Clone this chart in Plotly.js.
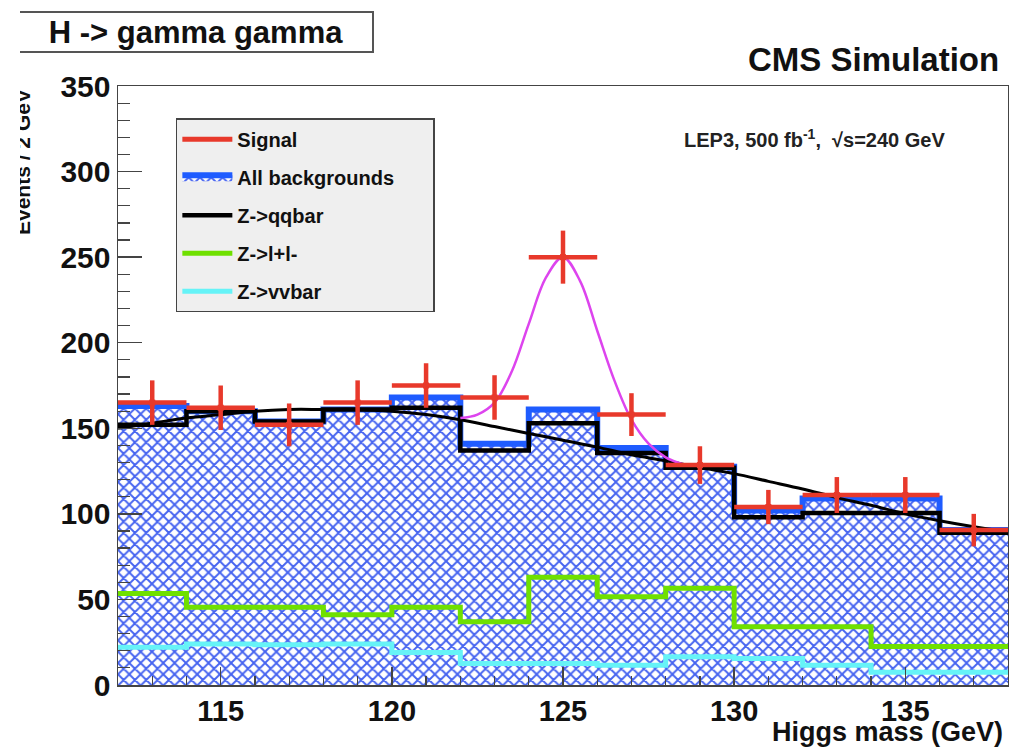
<!DOCTYPE html>
<html>
<head>
<meta charset="utf-8">
<script src="https://cdn.plot.ly/plotly-3.0.1.min.js"></script>
<style>
  html, body { margin:0; padding:0; background:#fff; }
  #wrap { position:relative; width:1009px; height:749px; }
  #chart { width:1009px; height:749px; }
  #crop { position:absolute; left:0; top:0; width:20px; height:320px; background:#fff; z-index:10; }
</style>
</head>
<body>
<div id="wrap">
  <div id="chart"></div>
  <div id="crop"></div>
</div>
<script>
// ---- data ----
const binEdges = [112, 114, 116, 118, 120, 122, 124, 126, 128, 130, 132, 134, 136, 138];
const binCenters = [113, 115, 117, 119, 121, 123, 125, 127, 129, 131, 133, 135, 137];

const allBackgrounds = [163, 160, 154, 161, 168, 141, 161, 138.5, 127.5, 102, 109, 109, 90.5];
const zqqbar         = [152, 160, 154, 161, 162, 137, 153, 135.5, 127, 98, 100.5, 100.5, 89];
const zll            = [53.5, 45.5, 45.5, 41, 45.5, 37, 63, 51.5, 56.5, 34, 34, 22.5, 22.5];
const zvvbar         = [22, 24, 23.5, 24, 19, 12.5, 12.5, 11.5, 16.5, 15.5, 11.5, 7.5, 7.5];

const signal     = [165, 162, 152, 165, 175, 168, 250, 158, 128.5, 104, 111, 111, 90.5];
const signalErr  = [13, 13, 12.5, 13, 13, 13, 15.5, 12.5, 11, 10, 10.5, 10.5, 9.5];

// smooth background fit (black curve)
const bkgFitX = [112, 113, 114, 115, 116, 117, 118, 119, 120, 121, 122, 123, 124, 125, 126, 127, 128, 129, 130, 131, 132, 133, 134, 135, 136, 137, 138];
const bkgFitY = [150, 153, 156, 158, 160, 161, 161, 161, 160, 158, 155, 151, 147, 143, 139, 134.5, 131, 127, 123.5, 119, 114.5, 109.5, 105, 100, 96, 92.5, 89.5];

// signal + background fit (magenta curve)
const sbFitX = [122, 122.5, 123, 123.5, 124, 124.5, 125, 125.5, 126, 126.5, 127, 127.5, 128, 128.5];
const sbFitY = [156, 158, 165, 183, 211, 238, 250, 236, 207, 178, 155, 141, 133, 129];

const xTickVals = [115, 120, 125, 130, 135];
const yTickVals = [0, 50, 100, 150, 200, 250, 300, 350];

// ---- helpers: step histogram via bin edges ----
function stepY(vals) { return vals.concat([vals[vals.length - 1]]); }

const FONT = 'Liberation Sans, Arial, sans-serif';
const RED = '#e8392b', BLUE = '#1f5cff', GREEN = '#6fe000', CYAN = '#66f3f7', BLACK = '#000000', MAGENTA = '#dd44ee';
const PAD = '\u00a0\u00a0\u00a0\u00a0\u00a0\u00a0'; // widens the legend box like the reference

const traces = [
  {
    name: 'All backgrounds' + PAD, legendgroup: 'b', legendrank: 2,
    x: binEdges, y: stepY(allBackgrounds), type: 'scatter', mode: 'lines',
    line: { shape: 'hv', color: BLUE, width: 6 },
    fill: 'tozeroy', fillcolor: 'rgba(255,255,255,0)',
    fillpattern: { shape: 'x', fgcolor: '#4563f0', bgcolor: '#ffffff', size: 8, solidity: 0.42 },
    hoverinfo: 'skip'
  },
  {
    name: 'Z->l+l-', legendgroup: 'd', legendrank: 4,
    x: binEdges, y: stepY(zll), type: 'scatter', mode: 'lines',
    line: { shape: 'hv', color: GREEN, width: 5 }
  },
  {
    name: 'Z->vvbar', legendgroup: 'e', legendrank: 5,
    x: binEdges, y: stepY(zvvbar), type: 'scatter', mode: 'lines',
    line: { shape: 'hv', color: CYAN, width: 5 }
  },
  {
    name: 'Z->qqbar', legendgroup: 'c', legendrank: 3,
    x: binEdges, y: stepY(zqqbar), type: 'scatter', mode: 'lines',
    line: { shape: 'hv', color: BLACK, width: 4.5 }
  },
  {
    name: 'bkg fit', showlegend: false,
    x: bkgFitX, y: bkgFitY, type: 'scatter', mode: 'lines',
    line: { shape: 'spline', color: BLACK, width: 3 }
  },
  {
    name: 'sig+bkg fit', showlegend: false,
    x: sbFitX, y: sbFitY, type: 'scatter', mode: 'lines',
    line: { shape: 'spline', color: MAGENTA, width: 2.5 }
  },
  {
    name: 'Signal', legendgroup: 'a', showlegend: false, legendrank: 1,
    x: binCenters, y: signal, type: 'scatter', mode: 'markers',
    marker: { color: RED, size: 6, symbol: 'square' },
    error_y: { type: 'data', array: signalErr, visible: true, color: RED, thickness: 4.5, width: 0 },
    error_x: { type: 'constant', value: 1, visible: true, color: RED, thickness: 4.5, width: 0 }
  },
  {
    // legend entry for the signal (red line swatch, as in the reference)
    name: 'Signal', legendgroup: 'a', legendrank: 1,
    x: [null], y: [null], type: 'scatter', mode: 'lines',
    line: { color: RED, width: 5 }
  }
];

const layout = {
  width: 1009, height: 749,
  margin: { l: 118, r: 1, t: 86, b: 64, pad: 0 },
  paper_bgcolor: '#ffffff', plot_bgcolor: '#ffffff',
  font: { family: FONT, color: '#111' },
  showlegend: true,
  legend: {
    x: 0.065, y: 0.946, xanchor: 'left', yanchor: 'top',
    bgcolor: '#efefef', bordercolor: '#444', borderwidth: 1.5,
    font: { family: FONT, size: 20, weight: 'bold', color: '#111' },
    traceorder: 'grouped', tracegroupgap: 9, itemwidth: 50,
    itemclick: false
  },
  xaxis: {
    range: [112, 138], tickmode: 'array', tickvals: xTickVals,
    ticks: 'inside', ticklen: 18, tickwidth: 1.5, tickcolor: '#444',
    minor: { ticks: 'inside', ticklen: 9, dtick: 1, tick0: 112, tickcolor: '#444', tickwidth: 1.2, showgrid: false },
    showline: true, mirror: true, linecolor: '#444', linewidth: 1.5,
    showgrid: false, zeroline: false,
    tickfont: { family: FONT, size: 29, weight: 'bold', color: '#111' }
  },
  yaxis: {
    range: [0, 350], tickmode: 'array', tickvals: yTickVals,
    ticks: 'inside', ticklen: 24, tickwidth: 1.5, tickcolor: '#444',
    minor: { ticks: 'inside', ticklen: 12, dtick: 10, tick0: 0, tickcolor: '#444', tickwidth: 1.2, showgrid: false },
    showline: true, mirror: true, linecolor: '#444', linewidth: 1.5,
    showgrid: false, zeroline: false,
    tickfont: { family: FONT, size: 30, weight: 'bold', color: '#111' }
  },
  annotations: [
    {
      text: 'H -> gamma gamma', xref: 'paper', yref: 'paper',
      x: (196 - 118) / 890, y: (685 - 32) / 599, xanchor: 'center', yanchor: 'middle',
      showarrow: false, width: 350, height: 36,
      bordercolor: '#555', borderwidth: 2, borderpad: 1, bgcolor: '#ffffff',
      font: { family: FONT, size: 31, weight: 'bold', color: '#111' }
    },
    {
      text: 'CMS Simulation', xref: 'paper', yref: 'paper',
      x: 1, y: (685 - 60) / 599, xanchor: 'right', yanchor: 'middle', xshift: -7,
      showarrow: false, font: { family: FONT, size: 33, weight: 'bold', color: '#111' }
    },
    {
      text: 'LEP3, 500 fb<sup>-1</sup>,  √s=240 GeV', xref: 'paper', yref: 'paper',
      x: (814 - 118) / 890, y: (685 - 138) / 599, xanchor: 'center', yanchor: 'middle',
      showarrow: false, font: { family: FONT, size: 20, weight: 'bold', color: '#222' }
    },
    {
      text: 'Higgs mass (GeV)', xref: 'paper', yref: 'paper',
      x: 1, y: (685 - 732) / 599, xanchor: 'right', yanchor: 'middle', xshift: -3,
      showarrow: false, font: { family: FONT, size: 27, weight: 'bold', color: '#111' }
    },
    {
      text: 'Events / 2 GeV', xref: 'paper', yref: 'paper', textangle: -90,
      x: (22 - 118) / 890, y: (685 - 162) / 599, xanchor: 'center', yanchor: 'middle',
      showarrow: false, font: { family: FONT, size: 21, weight: 'bold', color: '#111' }
    }
  ]
};

Plotly.newPlot('chart', traces, layout, { displayModeBar: false, staticPlot: true });
</script>
</body>
</html>
